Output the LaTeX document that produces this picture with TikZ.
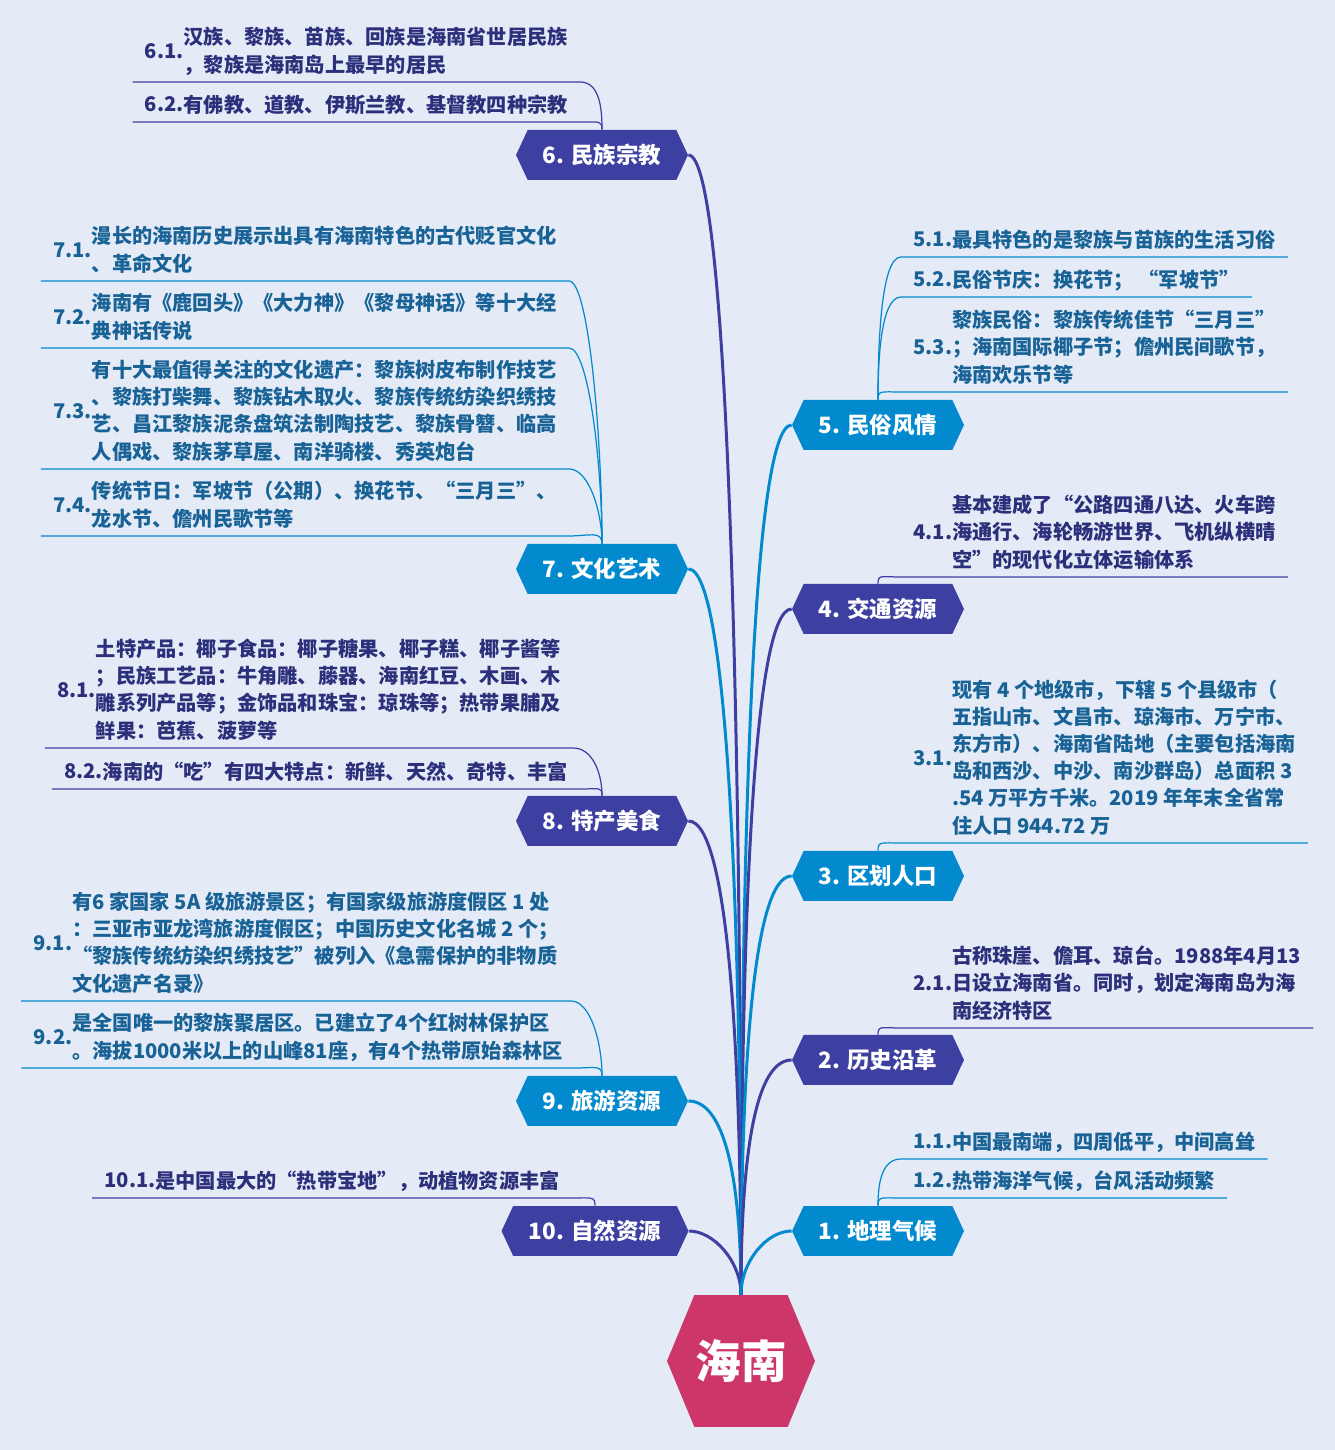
\documentclass[tikz,border=0pt]{standalone}
\usepackage{fontspec}
\setmainfont{Noto Sans CJK SC}
\definecolor{bg}{RGB}{228,235,247}
\definecolor{rose}{RGB}{204,54,104}
\definecolor{indigo}{RGB}{61,64,161}
\definecolor{sky}{RGB}{2,137,206}
\definecolor{indtxt}{RGB}{44,47,122}
\definecolor{skytxt}{RGB}{24,98,150}
\usetikzlibrary{shapes.symbols}
\newcommand{\subtopic}[2]{#1\begin{tabular}[c]{@{}l@{}}#2\end{tabular}}

\begin{document}
\begin{tikzpicture}[
        x=0.02cm, y=0.02cm,
        every node/.style={font=\bfseries},
        hub/.style={signal, signal to=east and west, signal pointer angle=135, fill=rose, text=white,
            minimum width=2.96cm, minimum height=2.64cm, inner sep=0pt, font=\fontsize{26}{30}\selectfont\bfseries},
        topic/.style={signal, signal to=east and west, signal pointer angle=130, fill=#1, text=white,
            minimum width=3.44cm, minimum height=1cm, inner sep=0pt, font=\fontsize{12.8}{15}\selectfont\bfseries},
        leaf/.style={text=#1, inner xsep=0.24cm, inner ysep=0.03cm, font=\fontsize{11.5}{15.4}\selectfont\bfseries},
        link/.style={draw=#1, line width=1.7pt},
        sub/.style={draw=#1, line width=0.7pt}
    ]
        \fill[bg] (0,0) rectangle (1335,1450);

        % Centro
        \node[hub] (hainan) at (741,89) {海南};

        % Ramas izquierda
        \node[topic=indigo] (n6) at (602,1295) {6. 民族宗教};
        \node[topic=sky]    (n7) at (602,881)  {7. 文化艺术};
        \node[topic=indigo] (n8) at (602,629)  {8. 特产美食};
        \node[topic=sky]    (n9) at (602,349)  {9. 旅游资源};
        \node[topic=indigo, minimum width=3.74cm] (n10) at (595,219) {10. 自然资源};

        % Ramas derecha
        \node[topic=sky]    (n5) at (878,1025) {5. 民俗风情};
        \node[topic=indigo] (n4) at (878,841)  {4. 交通资源};
        \node[topic=sky]    (n3) at (878,574)  {3. 区划人口};
        \node[topic=indigo] (n2) at (878,390)  {2. 历史沿革};
        \node[topic=sky]    (n1) at (878,219)  {1. 地理气候};

        \draw[link=indigo] (hainan.north) to[out=90,in=0,out distance=11.4cm,in distance=0.8cm] (n6.east);
        \draw[link=sky]    (hainan.north) to[out=90,in=0,out distance=7.3cm,in distance=0.8cm] (n7.east);
        \draw[link=indigo] (hainan.north) to[out=90,in=0,out distance=4.8cm,in distance=0.8cm] (n8.east);
        \draw[link=sky]    (hainan.north) to[out=90,in=0,out distance=2cm,in distance=0.8cm] (n9.east);
        \draw[link=indigo] (hainan.north) to[out=90,in=0,out distance=0.66cm,in distance=0.5cm] (n10.east);
        \draw[link=sky]    (hainan.north) to[out=90,in=180,out distance=8.7cm,in distance=0.8cm] (n5.west);
        \draw[link=indigo] (hainan.north) to[out=90,in=180,out distance=6.9cm,in distance=0.8cm] (n4.west);
        \draw[link=sky]    (hainan.north) to[out=90,in=180,out distance=4.2cm,in distance=0.8cm] (n3.west);
        \draw[link=indigo] (hainan.north) to[out=90,in=180,out distance=2.4cm,in distance=0.8cm] (n2.west);
        \draw[link=sky]    (hainan.north) to[out=90,in=180,out distance=0.66cm,in distance=0.5cm] (n1.west);

        % Hojas izquierda
        \node[leaf=indtxt, anchor=south east] (l61) at (580,1368) {\subtopic{6.1.}{汉族、黎族、苗族、回族是海南省世居民族\\，黎族是海南岛上最早的居民}};
        \node[leaf=indtxt, anchor=south east] (l62) at (580,1328) {\subtopic{6.2.}{有佛教、道教、伊斯兰教、基督教四种宗教}};
        \node[leaf=skytxt, anchor=south east] (l71) at (569,1169) {\subtopic{7.1.}{漫长的海南历史展示出具有海南特色的古代贬官文化\\、革命文化}};
        \node[leaf=skytxt, anchor=south east] (l72) at (569,1102) {\subtopic{7.2.}{海南有《鹿回头》《大力神》《黎母神话》等十大经\\典神话传说}};
        \node[leaf=skytxt, anchor=south east] (l73) at (569,981)  {\subtopic{7.3.}{有十大最值得关注的文化遗产：黎族树皮布制作技艺\\、黎族打柴舞、黎族钻木取火、黎族传统纺染织绣技\\艺、昌江黎族泥条盘筑法制陶技艺、黎族骨簪、临高\\人偶戏、黎族茅草屋、南洋骑楼、秀英炮台}};
        \node[leaf=skytxt, anchor=south east] (l74) at (569,914)  {\subtopic{7.4.}{传统节日：军坡节（公期）、换花节、“三月三”、\\龙水节、儋州民歌节等}};
        \node[leaf=indtxt, anchor=south east] (l81) at (573,702)  {\subtopic{8.1.}{土特产品：椰子食品：椰子糖果、椰子糕、椰子酱等\\；民族工艺品：牛角雕、藤器、海南红豆、木画、木\\雕系列产品等；金饰品和珠宝：琼珠等；热带果脯及\\鲜果：芭蕉、菠萝等}};
        \node[leaf=indtxt, anchor=south east] (l82) at (580,661)  {\subtopic{8.2.}{海南的“吃”有四大特点：新鲜、天然、奇特、丰富}};
        \node[leaf=skytxt, anchor=south east] (l91) at (571,449)  {\subtopic{9.1.}{有6 家国家 5A 级旅游景区；有国家级旅游度假区 1 处\\：三亚市亚龙湾旅游度假区；中国历史文化名城 2 个；\\“黎族传统纺染织绣技艺”被列入《急需保护的非物质\\文化遗产名录》}};
        \node[leaf=skytxt, anchor=south east] (l92) at (575,382)  {\subtopic{9.2.}{是全国唯一的黎族聚居区。已建立了4个红树林保护区\\。海拔1000米以上的山峰81座，有4个热带原始森林区}};
        \node[leaf=indtxt, anchor=south east] (l101) at (572,252) {\subtopic{10.1.}{是中国最大的“热带宝地”，动植物资源丰富}};

        % Hojas derecha
        \node[leaf=skytxt, anchor=south west] (l51) at (901,1193) {\subtopic{5.1.}{最具特色的是黎族与苗族的生活习俗}};
        \node[leaf=skytxt, anchor=south west] (l52) at (901,1153) {\subtopic{5.2.}{民俗节庆：换花节； “军坡节”}};
        \node[leaf=skytxt, anchor=south west] (l53) at (901,1058) {\subtopic{5.3.}{黎族民俗：黎族传统佳节“三月三”\\；海南国际椰子节；儋州民间歌节，\\海南欢乐节等}};
        \node[leaf=indtxt, anchor=south west] (l41) at (901,873)  {\subtopic{4.1.}{基本建成了“公路四通八达、火车跨\\海通行、海轮畅游世界、飞机纵横晴\\空”的现代化立体运输体系}};
        \node[leaf=skytxt, anchor=south west] (l31) at (901,607)  {\subtopic{3.1.}{现有 4 个地级市，下辖 5 个县级市（\\五指山市、文昌市、琼海市、万宁市、\\东方市）、海南省陆地（主要包括海南\\岛和西沙、中沙、南沙群岛）总面积 3\\.54 万平方千米。2019 年年末全省常\\住人口 944.72 万}};
        \node[leaf=indtxt, anchor=south west] (l21) at (901,422)  {\subtopic{2.1.}{古称珠崖、儋耳、琼台。1988年4月13\\日设立海南省。同时，划定海南岛为海\\南经济特区}};
        \node[leaf=skytxt, anchor=south west] (l11) at (901,291)  {\subtopic{1.1.}{中国最南端，四周低平，中间高耸}};
        \node[leaf=skytxt, anchor=south west] (l12) at (901,252)  {\subtopic{1.2.}{热带海洋气候，台风活动频繁}};

        % Subrayados y enlaces a las hojas
        \foreach \l/\t in {l61/n6, l62/n6, l81/n8, l82/n8, l101/n10}
            \draw[sub=indigo] (\l.south west) -- (\l.south east) to[out=0,in=90,out distance=0.4cm] (\t.north);
        \foreach \l/\t in {l71/n7, l72/n7, l73/n7, l74/n7, l91/n9, l92/n9}
            \draw[sub=sky] (\l.south west) -- (\l.south east) to[out=0,in=90,out distance=0.4cm] (\t.north);
        \foreach \l/\t in {l41/n4, l21/n2}
            \draw[sub=indigo] (\l.south east) -- (\l.south west) to[out=180,in=90,out distance=0.4cm] (\t.north);
        \foreach \l/\t in {l51/n5, l52/n5, l53/n5, l31/n3, l11/n1, l12/n1}
            \draw[sub=sky] (\l.south east) -- (\l.south west) to[out=180,in=90,out distance=0.4cm] (\t.north);
    \end{tikzpicture}
\end{document}
